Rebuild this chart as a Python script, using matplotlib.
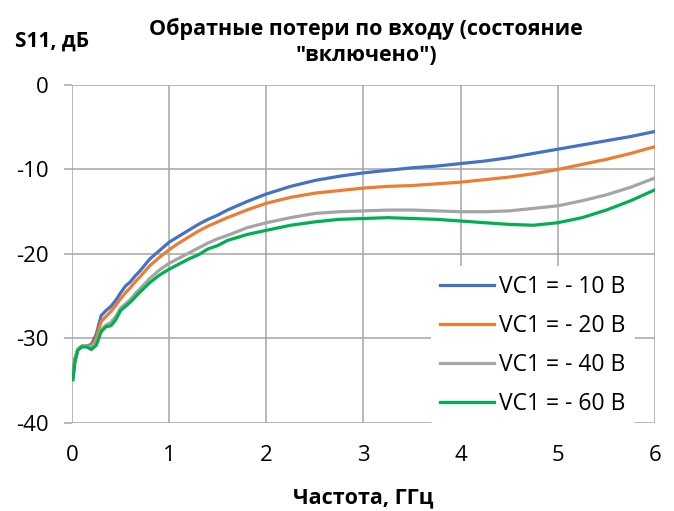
import matplotlib
matplotlib.use("Agg")
import matplotlib.pyplot as plt

plt.rcParams["font.family"] = ["Open Sans", "DejaVu Sans"]
plt.rcParams["axes.unicode_minus"] = False

# frequency, GHz
freq = [0.01, 0.03, 0.06, 0.1, 0.15, 0.2, 0.25, 0.3, 0.35, 0.4, 0.45, 0.5,
        0.55, 0.6, 0.65, 0.7, 0.8, 0.9, 1.0, 1.1, 1.2, 1.3, 1.4, 1.5, 1.6,
        1.8, 2.0, 2.25, 2.5, 2.75, 3.0, 3.25, 3.5, 3.75, 4.0, 4.25, 4.5,
        4.75, 5.0, 5.25, 5.5, 5.75, 6.0]

# S11, dB
s11_10 = [-34.5, -32.5, -31.3, -30.9, -30.9, -30.7, -29.5, -27.3, -26.7, -26.2,
          -25.5, -24.6, -23.8, -23.3, -22.6, -22.0, -20.6, -19.6, -18.6, -17.9,
          -17.2, -16.5, -15.9, -15.4, -14.8, -13.8, -12.9, -12.0, -11.3, -10.8,
          -10.4, -10.1, -9.8, -9.6, -9.3, -9.0, -8.6, -8.1, -7.6, -7.1, -6.6,
          -6.1, -5.5]
s11_20 = [-34.3, -32.3, -31.3, -30.9, -30.9, -30.9, -30.0, -28.0, -27.4, -26.8,
          -26.1, -25.3, -24.6, -24.0, -23.3, -22.7, -21.4, -20.4, -19.5, -18.7,
          -18.0, -17.3, -16.7, -16.2, -15.7, -14.8, -14.0, -13.3, -12.8, -12.5,
          -12.2, -12.0, -11.9, -11.7, -11.5, -11.2, -10.9, -10.5, -10.0, -9.4,
          -8.8, -8.1, -7.3]
s11_40 = [-34.6, -32.6, -31.3, -30.9, -30.9, -31.0, -30.5, -29.0, -28.4, -28.1,
          -27.4, -26.4, -25.9, -25.4, -24.7, -24.1, -22.9, -21.9, -21.1, -20.5,
          -19.9, -19.3, -18.7, -18.2, -17.8, -16.9, -16.3, -15.7, -15.2, -15.0,
          -14.9, -14.8, -14.8, -14.9, -15.0, -15.0, -14.9, -14.6, -14.3, -13.7,
          -13.0, -12.1, -11.0]
s11_60 = [-34.9, -32.8, -31.4, -31.0, -31.0, -31.3, -30.8, -29.2, -28.6, -28.5,
          -27.8, -26.7, -26.2, -25.7, -25.1, -24.5, -23.4, -22.5, -21.8, -21.2,
          -20.6, -20.1, -19.4, -19.0, -18.4, -17.7, -17.2, -16.6, -16.2, -15.9,
          -15.8, -15.7, -15.8, -15.9, -16.1, -16.3, -16.5, -16.6, -16.3, -15.7,
          -14.8, -13.7, -12.4]

labels = ["VC1 = - 10 В", "VC1 = - 20 В", "VC1 = - 40 В", "VC1 = - 60 В"]
colors = ["#4472C4", "#ED7D31", "#A5A5A5", "#00B050"]
x_ticks = [0, 1, 2, 3, 4, 5, 6]
y_ticks = [0, -10, -20, -30, -40]

fig = plt.figure(figsize=(6.74, 5.11), dpi=100)
ax = fig.add_axes([0.1068, 0.1722, 0.865, 0.6615])

for series, label, color in zip([s11_10, s11_20, s11_40, s11_60], labels, colors):
    ax.plot(freq, series, color=color, linewidth=2.3, label=label,
            solid_joinstyle="round")

ax.set_xlim(0, 6)
ax.set_ylim(-40, 0)
ax.set_xticks(x_ticks)
ax.set_yticks(y_ticks)
ax.grid(True, color="#A6A6A6", linewidth=1.1)
ax.set_axisbelow(True)
for spine in ax.spines.values():
    spine.set_visible(False)
ax.tick_params(axis="y", length=6, width=1.1, color="#A6A6A6",
               labelsize=16, pad=11)
ax.tick_params(axis="x", length=0, labelsize=16, pad=16)

fig.text(0.543, 0.918, "Обратные потери по входу (состояние\n\"включено\")",
         ha="center", va="center", fontsize=15.5, fontweight="bold",
         linespacing=1.33)
fig.text(0.022, 0.92, "S11, дБ", ha="left", va="center", fontsize=15,
         fontweight="bold")
fig.text(0.539, 0.026, "Частота, ГГц", ha="center", va="center",
         fontsize=15.5, fontweight="bold")

ax.legend(loc="center", bbox_to_anchor=(533 / 674, 1 - 345.5 / 511),
          bbox_transform=fig.transFigure, frameon=True, facecolor="white",
          edgecolor="none", framealpha=1, fontsize=16.5, handlelength=2.36,
          handletextpad=0.22, labelspacing=0.65, borderpad=0.4)

fig.savefig("out.png", dpi=100)
